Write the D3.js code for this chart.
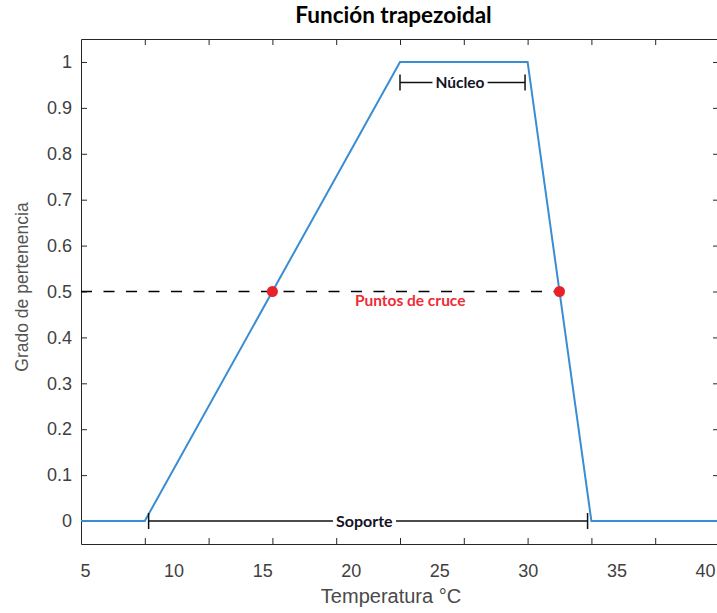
<!DOCTYPE html>
<html>
<head>
<meta charset="utf-8">
<script src="https://cdn.jsdelivr.net/npm/d3@7"></script>
<style>
  body { margin: 0; background: #fff; }
  svg { display: block; }
</style>
</head>
<body>
<svg id="chart" width="717" height="613"></svg>
<script>
// datos de la función trapezoidal (a=5, b=25, c=35, d=40)
const xPts = [0, 5, 25, 35, 40, 50];
const yPts = [0, 0, 1, 1, 0, 0];

// puntos de cruce (grado 0.5)
const cruceX = [15, 37.5];
const cruceY = [0.5, 0.5];

// marcas de los ejes
const xTicks = [5, 10, 15, 20, 25, 30, 35, 40, 45];
const xTickLabels = [5, 10, 15, 20, 25, 30, 35, 40];
const yTicks = [0, 0.1, 0.2, 0.3, 0.4, 0.5, 0.6, 0.7, 0.8, 0.9, 1];

// anotaciones
const nucleo = [25, 34.8];
const soporte = [5.3, 39.7];

const W = 717, H = 613;
const margin = { top: 39, right: -2, bottom: 69, left: 81 };

const svg = d3.select('#chart');

// ESCALAS
const x = d3.scaleLinear().domain([0, 50]).range([margin.left, W - margin.right]);
const y = d3.scaleLinear().domain([-0.05, 1.05]).range([H - margin.bottom, margin.top]);
// las etiquetas del eje x no coinciden con las marcas en la imagen original
const xLab = d3.scaleLinear().domain([5, 40]).range([85, 705]);

const axisColor = '#262626';
const fontAxis = '"Liberation Sans", Arial, sans-serif';
const fontNote = 'Lato, "Open Sans", sans-serif';

// EJES
const xBottom = svg.append('g')
  .attr('transform', `translate(0,${y(-0.05)})`)
  .call(d3.axisBottom(x).tickValues(xTicks).tickSize(-6).tickSizeOuter(0).tickFormat(''));
const xTop = svg.append('g')
  .attr('transform', `translate(0,${y(1.05)})`)
  .call(d3.axisTop(x).tickValues(xTicks).tickSize(-6).tickSizeOuter(0).tickFormat(''));
const yLeft = svg.append('g')
  .attr('transform', `translate(${x(0)},0)`)
  .call(d3.axisLeft(y).tickValues(yTicks).tickSize(-6).tickSizeOuter(0).tickPadding(9)
    .tickFormat(d => String(+d.toFixed(1))));
const yRight = svg.append('g')
  .attr('transform', `translate(${x(50)},0)`)
  .call(d3.axisRight(y).tickValues(yTicks).tickSize(-6).tickSizeOuter(0).tickFormat(''));
const xLabels = svg.append('g')
  .attr('transform', `translate(0,${y(-0.05)})`)
  .call(d3.axisBottom(xLab).tickValues(xTickLabels).tickSize(0).tickPadding(20.5));
xLabels.select('.domain').remove();

[xBottom, xTop, yLeft, yRight, xLabels].forEach(g => {
  g.selectAll('path,line').attr('stroke', axisColor).attr('stroke-width', 1);
  g.selectAll('text').attr('fill', '#404040').style('font-family', fontAxis).style('font-size', '18px');
});

// LINEA DISCONTINUA (0.5)
svg.append('line')
  .attr('x1', x(0)).attr('x2', x(cruceX[1]))
  .attr('y1', y(0.5)).attr('y2', y(0.5))
  .attr('stroke', '#000').attr('stroke-width', 1.5)
  .attr('stroke-dasharray', '11,11.5');

// FUNCION
const pts = xPts.map((v, i) => [v, yPts[i]]);
svg.append('path')
  .datum(pts)
  .attr('fill', 'none')
  .attr('stroke', '#3a8dd3')
  .attr('stroke-width', 2)
  .attr('d', d3.line().x(d => x(d[0])).y(d => y(d[1])));

// PUNTOS DE CRUCE
svg.selectAll('circle.cruce')
  .data(cruceX.map((v, i) => [v, cruceY[i]]))
  .enter().append('circle')
  .attr('class', 'cruce')
  .attr('cx', d => x(d[0])).attr('cy', d => y(d[1]))
  .attr('r', 5.5)
  .attr('fill', '#e8202a');

svg.append('text')
  .attr('x', x(25.8)).attr('y', y(0.5) + 14)
  .attr('text-anchor', 'middle')
  .attr('fill', '#ef2b38')
  .style('font-family', fontNote).style('font-weight', 'bold').style('font-size', '15.5px')
  .text('Puntos de cruce');

// CORCHETES (Núcleo y Soporte)
function bracket(range, yv, label, cx, capHalf, size) {
  const g = svg.append('g');
  const yy = y(yv);
  g.append('line').attr('x1', x(range[0])).attr('x2', x(range[1]))
    .attr('y1', yy).attr('y2', yy).attr('stroke', '#111').attr('stroke-width', 1.5);
  range.forEach(v => {
    g.append('line').attr('x1', x(v)).attr('x2', x(v))
      .attr('y1', yy - capHalf).attr('y2', yy + capHalf)
      .attr('stroke', '#111').attr('stroke-width', 1.5);
  });
  const t = g.append('text')
    .attr('x', x(cx)).attr('y', yy + 5.5)
    .attr('text-anchor', 'middle')
    .attr('fill', '#141428')
    .style('font-family', fontNote).style('font-weight', 'bold').style('font-size', size + 'px')
    .text(label);
  const bb = t.node().getBBox();
  g.insert('rect', 'text')
    .attr('x', bb.x - 3).attr('y', yy - 4)
    .attr('width', bb.width + 6).attr('height', 8)
    .attr('fill', '#fff');
}
bracket(nucleo, 0.955, 'Núcleo', 29.7, 8, 15.5);
bracket(soporte, 0, 'Soporte', 22.2, 8, 16);

// TITULO Y ETIQUETAS
svg.append('text')
  .attr('x', 393.5).attr('y', 23)
  .attr('text-anchor', 'middle')
  .attr('fill', '#000')
  .style('font-family', fontNote).style('font-weight', 'bold').style('font-size', '22.5px')
  .text('Función trapezoidal');

svg.append('text')
  .attr('x', 391).attr('y', 603)
  .attr('text-anchor', 'middle')
  .attr('fill', '#4a4a4a')
  .style('font-family', fontAxis).style('font-size', '20px')
  .text('Temperatura °C');

svg.append('text')
  .attr('transform', `translate(28,${287}) rotate(-90)`)
  .attr('text-anchor', 'middle')
  .attr('fill', '#555')
  .style('font-family', fontAxis).style('font-size', '17.5px')
  .text('Grado de pertenencia');
</script>
</body>
</html>
